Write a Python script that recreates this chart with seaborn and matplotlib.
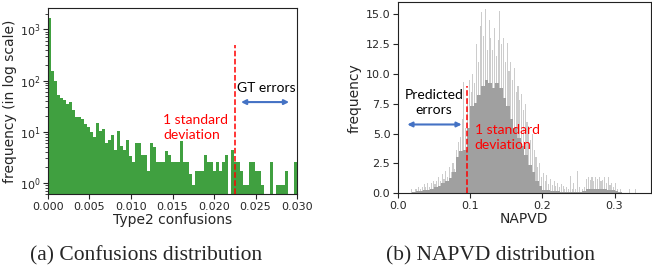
import numpy as np
import pandas as pd
import matplotlib.pyplot as plt
import seaborn as sns

# (a) Type2 confusions histogram, 83 bins over 0 .. 0.03 (log-scale frequency)
conf_counts = [1700, 152, 100, 53, 45, 41, 34, 38, 27, 19,
               19.5, 18, 14.4, 12.4, 10, 7.9, 15, 10.2, 11.2, 6.0,
               6.8, 8.5, 4.4, 10.2, 5.2, 4.4, 6.8, 3.3, 2.6, 5.9,
               5.9, 3.5, 3.5, 1.7, 5.9, 5.1, 2.6, 2.6, 2.6, 4.2,
               3.5, 2.6, 2.6, 2.6, 6.6, 2.6, 2.6, 1.5, 0.89, 1.7,
               1.7, 1.7, 3.5, 2.6, 2.6, 1.7, 2.6, 1.7, 2.6, 3.5,
               0, 4.4, 2.6, 2.6, 1.7, 0.89, 0.89, 2.6, 2.6, 1.7,
               1.7, 0.89, 0, 0, 2.6, 0, 0.89, 0.89, 0.89, 1.7,
               0, 0, 2.6]
conf_std = 0.0225

# (b) NAPVD histogram: thin spikes (0.0025 bins) and dense body (0.005 bins), 0 .. 0.35
napvd_peaks = [0, 0, 0, 0, 0, 0, 0, 0.4, 0, 0.4,
               0.4, 0.5, 0.4, 0.5, 0.8, 0.5, 0.9, 0.5, 0.9, 1.0,
               0.8, 1.0, 1.4, 1.0, 1.6, 1.2, 1.9, 1.4, 2.2, 1.8,
               2.5, 2.0, 3.6, 4.3, 4.7, 6.2, 9.3, 5.5, 8.0, 9.5,
               8.5, 10.0, 9.2, 12.5, 11.0, 14.0, 15.2, 13.2, 15.4, 12.0,
               14.5, 13.0, 12.0, 13.8, 11.5, 12.8, 15.3, 12.5, 13.0, 11.0,
               12.6, 10.2, 11.0, 9.5, 10.5, 8.5, 9.0, 7.8, 8.3, 7.0,
               7.5, 6.0, 5.6, 4.5, 5.0, 3.6, 3.0, 2.2, 2.5, 1.4,
               1.7, 1.0, 1.5, 0.8, 1.2, 0.7, 1.0, 0.6, 0.9, 0.5,
               0.8, 0.6, 0.4, 0.5, 0.4, 1.45, 0.4, 0.9, 0.4, 1.9,
               0.5, 0, 0.4, 0.5, 1.2, 1.4, 1.1, 1.4, 1.0, 1.4,
               1.2, 1.4, 1.0, 1.1, 1.4, 0.9, 1.4, 0.7, 0.9, 0.5,
               0.9, 0.4, 0, 0.4, 0, 0, 0, 0, 0.4, 0,
               0, 0.4, 0, 0, 0, 0, 0, 0, 0, 0]
napvd_base = [0, 0, 0, 0, 0.1, 0.2, 0.2, 0.3, 0.3, 0.4,
              0.5, 0.6, 0.9, 1.0, 1.3, 1.8, 3.0, 3.5, 3.6, 5.5,
              7.3, 7.6, 8.2, 9.0, 9.5, 9.2, 8.8, 9.2, 8.8, 8.0,
              7.3, 6.2, 5.5, 4.6, 4.0, 3.2, 2.4, 1.8, 1.0, 0.6,
              0.3, 0.3, 0.2, 0.2, 0.15, 0.1, 0.1, 0.1, 0.1, 0.1,
              0.1, 0.2, 0.4, 0.4, 0.4, 0.4, 0.4, 0.4, 0.3, 0.3,
              0.2, 0.1, 0, 0, 0, 0, 0, 0, 0, 0]
napvd_std = 0.096

sns.set_style('ticks')
plt.rcParams['font.family'] = ['DejaVu Sans']
plt.rcParams['axes.edgecolor'] = '#222222'

fig = plt.figure(figsize=(6.52, 2.73), dpi=100)
ax1 = fig.add_axes([0.0736, 0.289, 0.382, 0.681])
ax2 = fig.add_axes([0.6104, 0.292, 0.3875, 0.700])


def binned(values, hi):
    step = hi / len(values)
    mids = step / 2 + step * np.arange(len(values))
    return pd.DataFrame({'x': mids, 'w': values})


# ---- left panel
sns.histplot(data=binned(conf_counts, 0.03), x='x', weights='w',
             bins=len(conf_counts), binrange=(0, 0.03), color='#40a040',
             alpha=1, linewidth=0, ax=ax1)
ax1.set_yscale('log')
ax1.set_ylim(0.6, 2600)
ax1.set_xlim(0, 0.03)
ticks1 = np.arange(0, 0.0301, 0.005)
ax1.set_xticks(ticks1)
ax1.set_xticklabels(['%.3f' % t for t in ticks1])
ax1.plot([conf_std, conf_std], [0.6, 500], color='red', ls='--', lw=1.1)
ax1.set_xlabel('Type2 confusions', fontsize=10, labelpad=1)
ax1.set_ylabel('frequency (in log scale)', fontsize=10, labelpad=2)
ax1.tick_params(labelsize=8, pad=2)

ax1.text(0.462, 0.357, '1 standard\ndeviation', transform=ax1.transAxes,
         color='red', fontsize=10, family='Lato', ha='left', va='center',
         linespacing=1.35)
ax1.text(0.759, 0.57, 'GT errors', transform=ax1.transAxes, color='black',
         fontsize=10, family='Lato', ha='left', va='center')
ax1.annotate('', xy=(0.968, 0.495), xytext=(0.775, 0.495), xycoords='axes fraction',
             arrowprops=dict(arrowstyle='<|-|>', color='#4472c4', lw=1.5,
                             mutation_scale=7, shrinkA=0, shrinkB=0))

# ---- right panel
sns.histplot(data=binned(napvd_peaks, 0.35), x='x', weights='w',
             bins=len(napvd_peaks), binrange=(0, 0.35), color='#cccccc',
             alpha=1, linewidth=0, shrink=0.6, ax=ax2)
sns.histplot(data=binned(napvd_base, 0.35), x='x', weights='w',
             bins=len(napvd_base), binrange=(0, 0.35), color='#a0a0a0',
             alpha=1, linewidth=0, ax=ax2)
ax2.set_xlim(0, 0.35)
ax2.set_ylim(0, 16)
ax2.set_xticks([0.0, 0.1, 0.2, 0.3])
ax2.set_xticklabels(['0.0', '0.1', '0.2', '0.3'])
ticks2 = np.arange(0, 15.1, 2.5)
ax2.set_yticks(ticks2)
ax2.set_yticklabels(['%.1f' % t for t in ticks2])
ax2.plot([napvd_std, napvd_std], [0, 9.0], color='red', ls='--', lw=1.1)
ax2.set_xlabel('NAPVD', fontsize=10, labelpad=1)
ax2.set_ylabel('frequency', fontsize=10, labelpad=3)
ax2.tick_params(labelsize=8, pad=2)

ax2.text(0.142, 0.474, 'Predicted\nerrors', transform=ax2.transAxes,
         color='black', fontsize=10, family='Lato', ha='center', va='center',
         linespacing=1.35)
ax2.annotate('', xy=(0.252, 0.36), xytext=(0.037, 0.36), xycoords='axes fraction',
             arrowprops=dict(arrowstyle='<|-|>', color='#4472c4', lw=1.5,
                             mutation_scale=7, shrinkA=0, shrinkB=0))
ax2.text(0.304, 0.293, '1 standard\ndeviation', transform=ax2.transAxes,
         color='red', fontsize=10, family='Lato', ha='left', va='center',
         linespacing=1.35)

# captions
fig.text(0.224, 0.064, '(a) Confusions distribution', fontsize=15.5,
         family='Liberation Serif', ha='center', va='center')
fig.text(0.752, 0.064, '(b) NAPVD distribution', fontsize=15.5,
         family='Liberation Serif', ha='center', va='center')

fig.savefig('out.png', dpi=100)
